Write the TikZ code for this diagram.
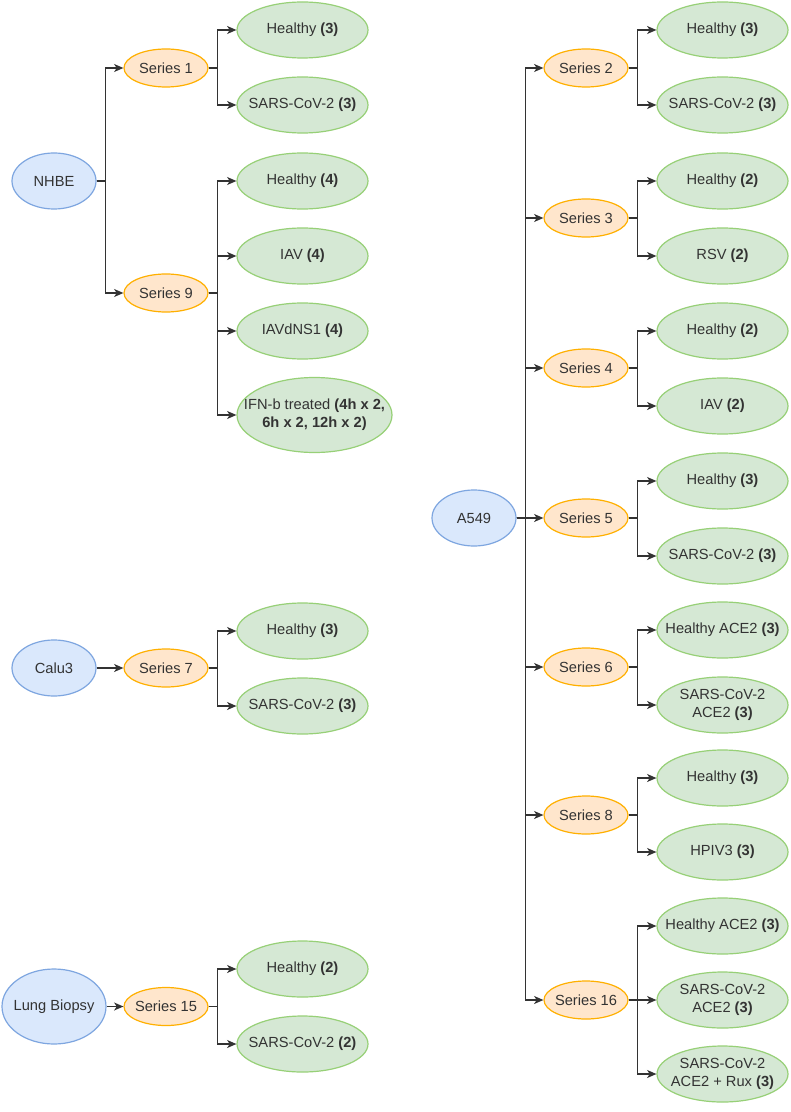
\documentclass[tikz,border=0pt]{standalone}
\usepackage{fontspec}
\setmainfont{Liberation Sans}
\usetikzlibrary{shapes.geometric,arrows.meta}
\definecolor{txt}{HTML}{333333}
\definecolor{bluef}{HTML}{DAE8FC}
\definecolor{blued}{HTML}{7EA6E0}
\definecolor{orangef}{HTML}{FFE6CC}
\definecolor{oranged}{HTML}{FFB000}
\definecolor{greenf}{HTML}{D5E8D4}
\definecolor{greend}{HTML}{97D077}
\definecolor{edgec}{HTML}{333333}
\tikzset{
  base/.style={ellipse, inner sep=0pt, line width=0.9pt,
    label={[font=\fontsize{11}{13.2}\selectfont, text=txt, align=center, inner sep=0pt]center:#1}},
  cell/.style={base={#1}, fill=bluef, draw=blued, minimum width=63pt, minimum height=42pt},
  ser/.style={base={#1}, fill=orangef, draw=oranged, minimum width=63pt, minimum height=28.5pt},
  cond/.style={base={#1}, fill=greenf, draw=greend, minimum width=98.25pt, minimum height=42pt},
  edge/.style={draw=edgec, line width=1pt, -{Stealth[length=7pt,width=6pt,inset=2pt]}}
}
\begin{document}
\begin{tikzpicture}[x=0.75pt,y=-0.75pt]
\useasboundingbox[fill=white] (0,0) rectangle (790,1112);
% ---------- left: NHBE ----------
\node[cell={NHBE}] (nhbe) at (54,181) {};
\node[ser={Series 1}] (s1) at (166,68) {};
\node[ser={Series 9}] (s9) at (166,293) {};
\node[cond={Healthy \textbf{(3)}}] (s1a) at (302.5,30) {};
\node[cond={SARS-CoV-2 \textbf{(3)}}] (s1b) at (302.5,105) {};
\node[cond={Healthy \textbf{(4)}}] (s9a) at (302.5,181) {};
\node[cond={IAV \textbf{(4)}}] (s9b) at (302.5,256) {};
\node[cond={IAVdNS1 \textbf{(4)}}] (s9c) at (302.5,331) {};
\node[cond={IFN-b treated \textbf{(4h x 2,}\\\textbf{6h x 2, 12h x 2)}}, minimum width=116.25pt, minimum height=56.25pt] (s9d) at (314.5,415) {};
% ---------- left: Calu3 ----------
\node[cell={Calu3}] (calu3) at (54,668) {};
\node[ser={Series 7}] (s7) at (166,668) {};
\node[cond={Healthy \textbf{(3)}}] (s7a) at (302.5,631) {};
\node[cond={SARS-CoV-2 \textbf{(3)}}] (s7b) at (302.5,706) {};
% ---------- left: Lung Biopsy ----------
\node[cell={Lung Biopsy}, minimum width=78pt, minimum height=56.25pt] (lung) at (54,1006.5) {};
\node[ser={Series 15}] (s15) at (166,1006.5) {};
\node[cond={Healthy \textbf{(2)}}] (s15a) at (302.5,969) {};
\node[cond={SARS-CoV-2 \textbf{(2)}}] (s15b) at (302.5,1044) {};
% ---------- right: A549 ----------
\node[cell={A549}] (a549) at (474,518) {};
\node[ser={Series 2}] (s2) at (586,68) {};
\node[ser={Series 3}] (s3) at (586,218) {};
\node[ser={Series 4}] (s4) at (586,368) {};
\node[ser={Series 5}] (s5) at (586,518) {};
\node[ser={Series 6}] (s6) at (586,667) {};
\node[ser={Series 8}] (s8) at (586,815) {};
\node[ser={Series 16}] (s16) at (586,1000) {};
\node[cond={Healthy \textbf{(3)}}] (s2a) at (722.5,30) {};
\node[cond={SARS-CoV-2 \textbf{(3)}}] (s2b) at (722.5,105) {};
\node[cond={Healthy \textbf{(2)}}] (s3a) at (722.5,181) {};
\node[cond={RSV \textbf{(2)}}] (s3b) at (722.5,256) {};
\node[cond={Healthy \textbf{(2)}}] (s4a) at (722.5,331) {};
\node[cond={IAV \textbf{(2)}}] (s4b) at (722.5,406) {};
\node[cond={Healthy \textbf{(3)}}] (s5a) at (722.5,481) {};
\node[cond={SARS-CoV-2 \textbf{(3)}}] (s5b) at (722.5,556) {};
\node[cond={Healthy ACE2 \textbf{(3)}}] (s6a) at (722.5,630) {};
\node[cond={SARS-CoV-2\\ACE2 \textbf{(3)}}] (s6b) at (722.5,705) {};
\node[cond={Healthy \textbf{(3)}}] (s8a) at (722.5,778) {};
\node[cond={HPIV3 \textbf{(3)}}] (s8b) at (722.5,852) {};
\node[cond={Healthy ACE2 \textbf{(3)}}] (s16a) at (722.5,926) {};
\node[cond={SARS-CoV-2\\ACE2 \textbf{(3)}}] (s16b) at (722.5,1000) {};
\node[cond={SARS-CoV-2\\ACE2 + Rux \textbf{(3)}}] (s16c) at (722.5,1074) {};
% ---------- connectors ----------
\foreach \p/\c in {nhbe/s1, nhbe/s9, s1/s1a, s1/s1b, s9/s9a, s9/s9b, s9/s9c, s9/s9d,
  s7/s7a, s7/s7b, s15/s15a, s15/s15b,
  a549/s2, a549/s3, a549/s4, a549/s5, a549/s6, a549/s8, a549/s16,
  s2/s2a, s2/s2b, s3/s3a, s3/s3b, s4/s4a, s4/s4b, s5/s5a, s5/s5b,
  s6/s6a, s6/s6b, s8/s8a, s8/s8b, s16/s16a, s16/s16b, s16/s16c}
  \draw[edge] (\p.east) -- ++(9,0) |- (\c.west);
\draw[edge] (calu3.east) -- (s7.west);
\draw[edge] (lung.east) -- (s15.west);
\end{tikzpicture}
\end{document}
